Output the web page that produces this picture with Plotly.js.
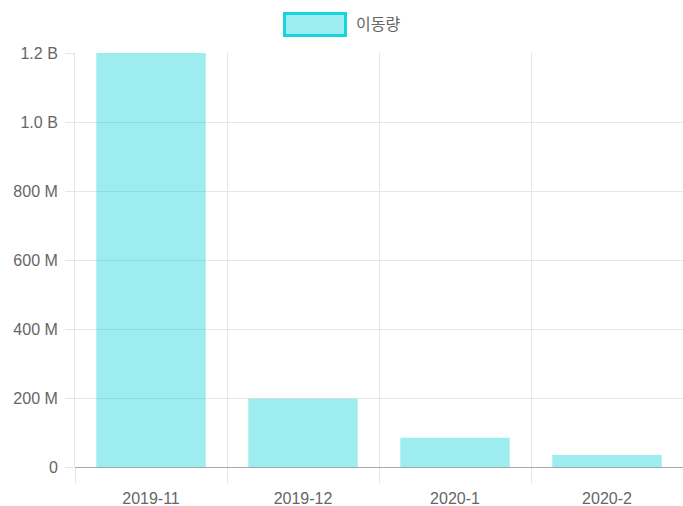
<!DOCTYPE html>
<html>
<head>
<meta charset="utf-8">
<script src="https://cdn.plot.ly/plotly-3.0.1.min.js"></script>
<style>html,body{margin:0;padding:0;background:#fff;}#chart{width:683px;height:506px;}</style>
</head>
<body>
<div id="chart"></div>
<script>
const categories = ["2019-11", "2019-12", "2020-1", "2020-2"];
const seriesName = "이동량";
const values = [1200000000, 198000000, 85000000, 35000000];
const yTickVals = [0, 200000000, 400000000, 600000000, 800000000, 1000000000, 1200000000];
const yTickText = ["0", "200 M", "400 M", "600 M", "800 M", "1.0 B", "1.2 B"];

const W = 683, H = 506;
const M = {l: 75, r: 0, t: 53, b: 39};
const pw = W - M.l - M.r, ph = H - M.t - M.b;
const px = x => (x - M.l) / pw;
const py = y => (H - M.b - y) / ph;

const fontFam = "Liberation Sans, Arial, Helvetica, sans-serif";

const trace = {
  type: "bar",
  x: categories,
  y: values,
  name: seriesName,
  marker: {color: "rgba(10,210,217,0.4)", line: {width: 0}},
  hoverinfo: "x+y"
};

const layout = {
  width: W, height: H,
  margin: M,
  paper_bgcolor: "#fff", plot_bgcolor: "#fff",
  showlegend: false,
  bargap: 0.28,
  font: {family: fontFam, size: 16, color: "#666"},
  xaxis: {
    type: "category",
    tickson: "boundaries",
    showgrid: true, gridcolor: "#e6e6e6", gridwidth: 1,
    ticks: "outside", ticklen: 16, tickcolor: "#e6e6e6", tickwidth: 1,
    ticklabelstandoff: 20,
    tickfont: {family: fontFam, size: 16, color: "#666"},
    showline: false,
    zeroline: false
  },
  yaxis: {
    range: [0, 1200000000],
    tickvals: yTickVals, ticktext: yTickText,
    showgrid: true, gridcolor: "#e6e6e6", gridwidth: 1,
    ticks: "outside", ticklen: 9, tickcolor: "#e6e6e6", tickwidth: 1,
    ticklabelstandoff: 4,
    tickfont: {family: fontFam, size: 16, color: "#666"},
    showline: true, linecolor: "#e6e6e6", linewidth: 1,
    zeroline: true, zerolinecolor: "#a8a8a8", zerolinewidth: 1
  },
  shapes: [{
    type: "rect", xref: "paper", yref: "paper",
    x0: px(284.5), x1: px(345.5), y0: py(35.5), y1: py(13.5),
    fillcolor: "rgba(10,210,217,0.4)",
    line: {color: "rgb(20,214,220)", width: 3},
    layer: "above"
  }],
  annotations: [{
    xref: "paper", yref: "paper",
    x: px(354), y: py(23),
    xanchor: "left", yanchor: "middle",
    text: seriesName, showarrow: false,
    font: {family: "Noto Sans CJK KR, sans-serif", size: 16, color: "#666"}
  }]
};

Plotly.newPlot("chart", [trace], layout, {displayModeBar: false, staticPlot: true});
</script>
</body>
</html>
